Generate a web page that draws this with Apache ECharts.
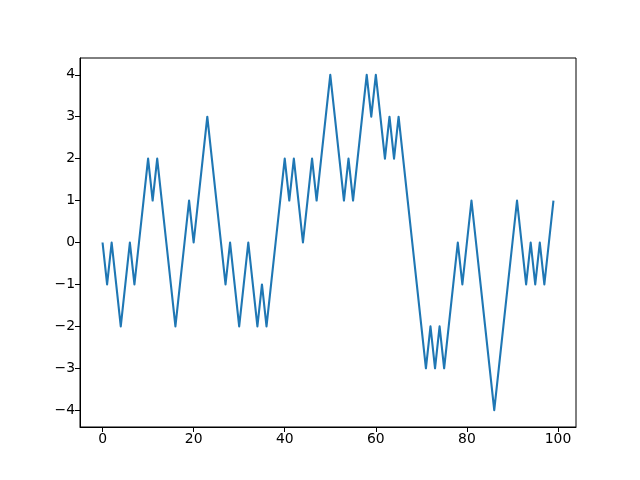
<!DOCTYPE html>
<html>
<head>
<meta charset="utf-8">
<script src="https://cdn.jsdelivr.net/npm/echarts@6/dist/echarts.min.js"></script>
<style>html,body{margin:0;padding:0;background:#fff}#c{width:640px;height:480px}</style>
</head>
<body>
<div id="c"></div>
<script>
var steps = [];
for (var i = 0; i < 100; i++) steps.push(i);
var walk = [0,-1,0,-1,-2,-1,0,-1,0,1,
            2,1,2,1,0,-1,-2,-1,0,1,
            0,1,2,3,2,1,0,-1,0,-1,
            -2,-1,0,-1,-2,-1,-2,-1,0,1,
            2,1,2,1,0,1,2,1,2,3,
            4,3,2,1,2,1,2,3,4,3,
            4,3,2,3,2,3,2,1,0,-1,
            -2,-3,-2,-3,-2,-3,-2,-1,0,-1,
            0,1,0,-1,-2,-3,-4,-3,-2,-1,
            0,1,0,-1,0,-1,0,-1,0,1];
var xTicks = [0,20,40,60,80,100];
var yTicks = [-4,-3,-2,-1,0,1,2,3,4];

function fmt(v) { return String(v).replace('-', '\u2212'); }

var chart = echarts.init(document.getElementById('c'), null, {renderer:'canvas'});
var fontFam = 'DejaVu Sans';
chart.setOption({
  animation: false,
  backgroundColor: '#fff',
  grid: {left: 80, right: 64, top: 58, bottom: 53, show: true, borderColor: '#000', borderWidth: 1, backgroundColor: 'transparent'},
  xAxis: {
    type: 'value', min: -4.95, max: 103.95,
    splitLine: {show: false},
    axisLine: {show: true, onZero: false, lineStyle: {color: '#000', width: 1}},
    axisTick: {show: true, length: 5, lineStyle: {color: '#000', width: 1}, customValues: xTicks},
    axisLabel: {color: '#000', fontSize: 13.9, fontFamily: fontFam, margin: 5, customValues: xTicks, formatter: fmt}
  },
  yAxis: {
    type: 'value', min: -4.4, max: 4.4,
    splitLine: {show: false},
    axisLine: {show: true, onZero: false, lineStyle: {color: '#000', width: 1}},
    axisTick: {show: true, length: 5, lineStyle: {color: '#000', width: 1}, customValues: yTicks},
    axisLabel: {color: '#000', fontSize: 13.9, fontFamily: fontFam, margin: 5, customValues: yTicks, formatter: fmt}
  },
  series: [{
    type: 'line',
    data: steps.map(function (s, i) { return [s, walk[i]]; }),
    showSymbol: false,
    lineStyle: {color: '#1f77b4', width: 2.1, join: 'round'},
    itemStyle: {color: '#1f77b4'}
  }]
});
</script>
</body>
</html>
